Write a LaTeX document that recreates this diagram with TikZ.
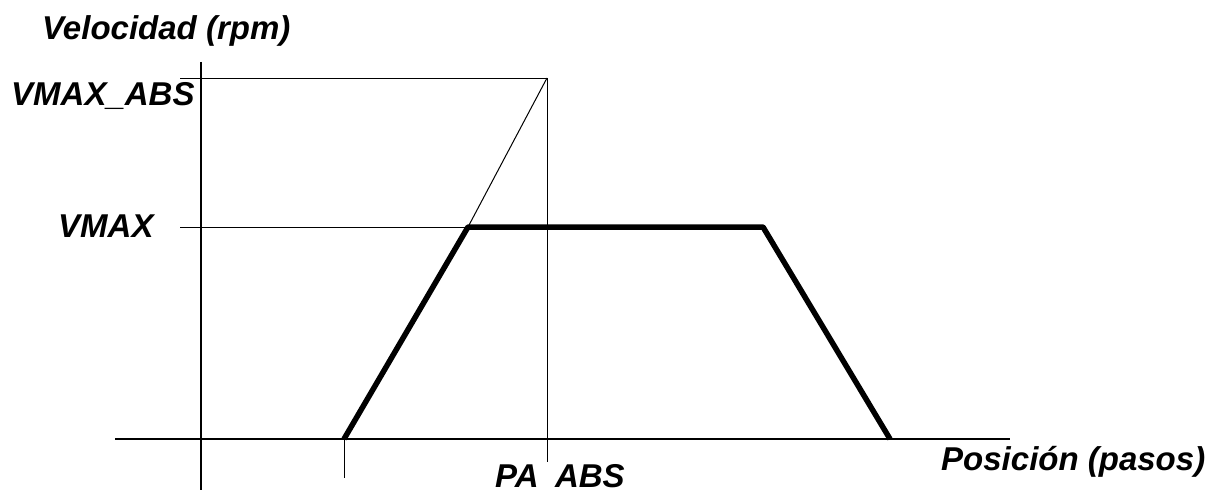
\documentclass[tikz,border=0pt]{standalone}
\usepackage{fontspec}
\setmainfont{Liberation Sans}
\begin{document}
\begin{tikzpicture}[x=1pt,y=-1pt,
  lbl/.style={inner sep=0pt,anchor=base west,font=\fontsize{33}{37}\selectfont\bfseries\itshape},
  axisline/.style={line width=2.4pt,black},
  guide/.style={line width=1pt,black},
  profile/.style={line width=5.5pt,black,line join=round}]
\useasboundingbox (0,0) rectangle (1212,495);
% coordinates
\coordinate (ytop) at (201,62);
\coordinate (ybot) at (201,490);
\coordinate (xleft) at (115,439);
\coordinate (xright) at (1010,439);
\coordinate (vabsL) at (180,78);
\coordinate (peak) at (547,78);
\coordinate (vmaxL) at (180,227);
\coordinate (p1) at (344,439);
\coordinate (p2) at (468,227);
\coordinate (p3) at (763,227);
\coordinate (p4) at (890,439);
\coordinate (pabsB) at (547,462);
\coordinate (tickB) at (344,478);
% axes
\draw[axisline] (ytop) -- (ybot);
\draw[axisline] (xleft) -- (xright);
% guides
\draw[guide] (vabsL) -- (peak);
\draw[guide] (peak) -- (pabsB);
\draw[guide] (vmaxL) -- (p2);
\draw[guide] (p2) -- (peak);
\draw[guide] (p1) -- (tickB);
% profile
\draw[profile] (p1) -- (p2) -- (p3) -- (p4);
% labels
\node[lbl] (vel) at (42,40) {Velocidad (rpm)};
\node[lbl] (vabs) at (11,105) {VMAX\_ABS};
\node[lbl] (vmax) at (58,237) {VMAX};
\node[lbl] (pabs) at (495,487) {PA\hspace{0.5em}ABS};
\node[lbl] (pos) at (941,470) {Posición (pasos)};
\end{tikzpicture}
\end{document}
